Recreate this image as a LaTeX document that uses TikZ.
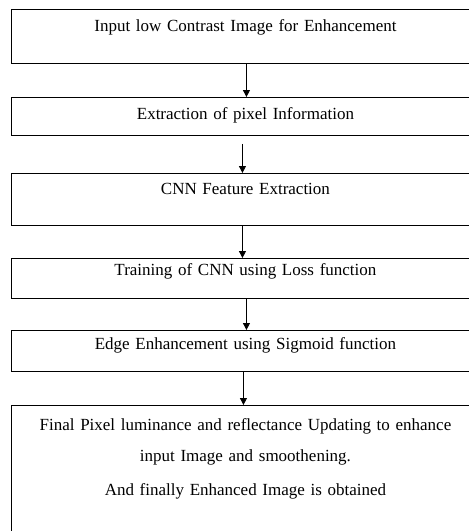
\documentclass[tikz,border=0pt]{standalone}
\usepackage{fontspec}
\setmainfont{Liberation Serif}
\usetikzlibrary{arrows.meta}

\begin{document}
\begin{tikzpicture}[x=1pt,y=-1pt,
  stage/.style={draw=black,line width=0.9pt,anchor=north west,inner sep=0pt,
    text width=468pt,align=center,font=\fontsize{17}{31}\selectfont},
  flow/.style={draw=black,line width=0.8pt,-{Triangle[length=7pt,width=7pt]}}]
\useasboundingbox (0,0) rectangle (469,531);
\clip (0,0) rectangle (469,531);

% Process boxes
\node [stage,text height=22pt,text depth=32pt] (input) at (11,9) {Input low Contrast Image for Enhancement};
\node [stage,text height=22pt,text depth=16pt] (pixel) at (11,97) {Extraction of pixel Information};
\node [stage,text height=21pt,text depth=31pt] (feature) at (11,173) {CNN Feature Extraction};
\node [stage,text height=17pt,text depth=23pt] (training) at (11,258) {Training of CNN using Loss function};
\node [stage,text height=19pt,text depth=22pt] (edge) at (11,330) {Edge Enhancement using Sigmoid function};
\node [stage,text height=25pt,text depth=110pt] (final) at (11,405) {Final Pixel luminance and reflectance Updating to enhance\\
  input Image and smoothening.\\[3pt]
  And finally Enhanced Image is obtained};

% Arrows
\draw [flow] ([xshift=1pt]input.south) -- ([xshift=1pt]pixel.north);
\draw [flow] ([xshift=-3pt,yshift=-8pt]pixel.south) -- ([xshift=-3pt]feature.north);
\draw [flow] ([xshift=-3pt]feature.south) -- ([xshift=-3pt]training.north);
\draw [flow] ([xshift=1pt]training.south) -- ([xshift=1pt]edge.north);
\draw [flow] ([xshift=-2pt]edge.south) -- ([xshift=-2pt]final.north);

\end{tikzpicture}
\end{document}
